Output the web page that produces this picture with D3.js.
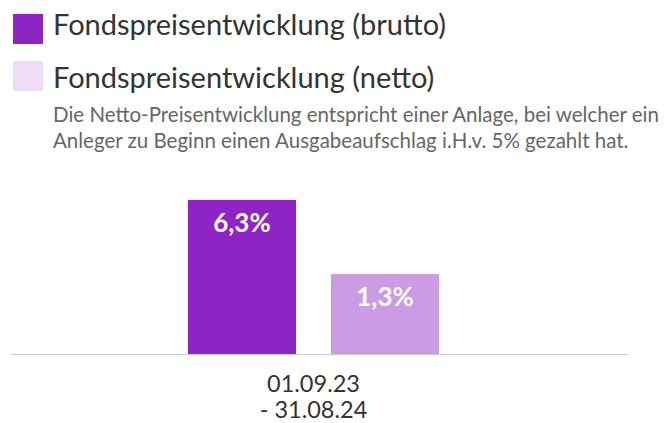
<!DOCTYPE html>
<html>
<head>
<meta charset="utf-8">
<script src="https://cdn.jsdelivr.net/npm/d3@7"></script>
<style>
  body { margin: 0; background: #fff; }
  svg { font-family: "Source Sans Pro", Lato, "Noto Sans", sans-serif; }
</style>
</head>
<body>
<svg id="chart" width="664" height="423"></svg>
<script>
// data
const categories = ["01.09.23\n- 31.08.24"];
const seriesNames = ["Fondspreisentwicklung (brutto)", "Fondspreisentwicklung (netto)"];
const seriesValues = [6.3, 1.3];
const valueLabels = ["6,3%", "1,3%"];
const note = [
  "Die Netto-Preisentwicklung entspricht einer Anlage, bei welcher ein",
  "Anleger zu Beginn einen Ausgabeaufschlag i.H.v. 5% gezahlt hat."
];

const barColors = ["#8e24c4", "#cb9be3"];
const legendColors = ["#8e24c4", "#f0dcf9"];

const svg = d3.select("#chart");

// legend
const legend = svg.append("g").attr("class", "legend");
seriesNames.forEach((name, i) => {
  const gy = 14 + i * 47;
  legend.append("rect")
    .attr("x", 13).attr("y", gy)
    .attr("width", 30).attr("height", 30)
    .attr("fill", legendColors[i]);
  legend.append("text")
    .attr("x", 53).attr("y", 35 + i * 53)
    .attr("font-size", 29)
    .attr("fill", "#333")
    .text(name);
});

legend.selectAll(".note")
  .data(note)
  .enter().append("text")
  .attr("class", "note")
  .attr("x", 53)
  .attr("y", (d, i) => 122 + i * 26)
  .attr("font-size", 20.5)
  .attr("fill", "#666")
  .text(d => d);

// chart area
const baseline = 354;
const x0 = d3.scaleBand().domain(categories).range([10, 628]).padding(0);
const x1 = d3.scaleBand().domain(d3.range(seriesValues.length))
  .range([188, 439]).paddingInner(0.245).paddingOuter(0);

// y axis doesn't start at zero in the original
const y = d3.scaleLinear().domain([-4.1, 6.3]).range([baseline, 200]);

const g = svg.append("g");

g.selectAll(".bar")
  .data(seriesValues)
  .enter().append("rect")
  .attr("class", "bar")
  .attr("x", (d, i) => x1(i))
  .attr("y", d => y(d))
  .attr("width", x1.bandwidth())
  .attr("height", d => baseline - y(d))
  .attr("fill", (d, i) => barColors[i]);

g.selectAll(".val")
  .data(seriesValues)
  .enter().append("text")
  .attr("class", "val")
  .attr("x", (d, i) => x1(i) + x1.bandwidth() / 2)
  .attr("y", d => y(d) + 32)
  .attr("text-anchor", "middle")
  .attr("font-size", 26)
  .attr("font-weight", "bold")
  .attr("fill", "#fff")
  .text((d, i) => valueLabels[i]);

// axis line
const xAxis = g.append("g")
  .attr("transform", `translate(0,${baseline})`)
  .call(d3.axisBottom(x0).tickSize(0).tickFormat(""));
xAxis.select(".domain").attr("stroke", "#ccc").attr("stroke-width", 1);

// category label (two lines)
const center = (188 + 439) / 2;
categories.forEach(c => {
  c.split("\n").forEach((line, i) => {
    g.append("text")
      .attr("x", center)
      .attr("y", 392 + i * 26)
      .attr("text-anchor", "middle")
      .attr("font-size", 23.5)
      .attr("fill", "#333")
      .text(line);
  });
});
</script>
</body>
</html>
